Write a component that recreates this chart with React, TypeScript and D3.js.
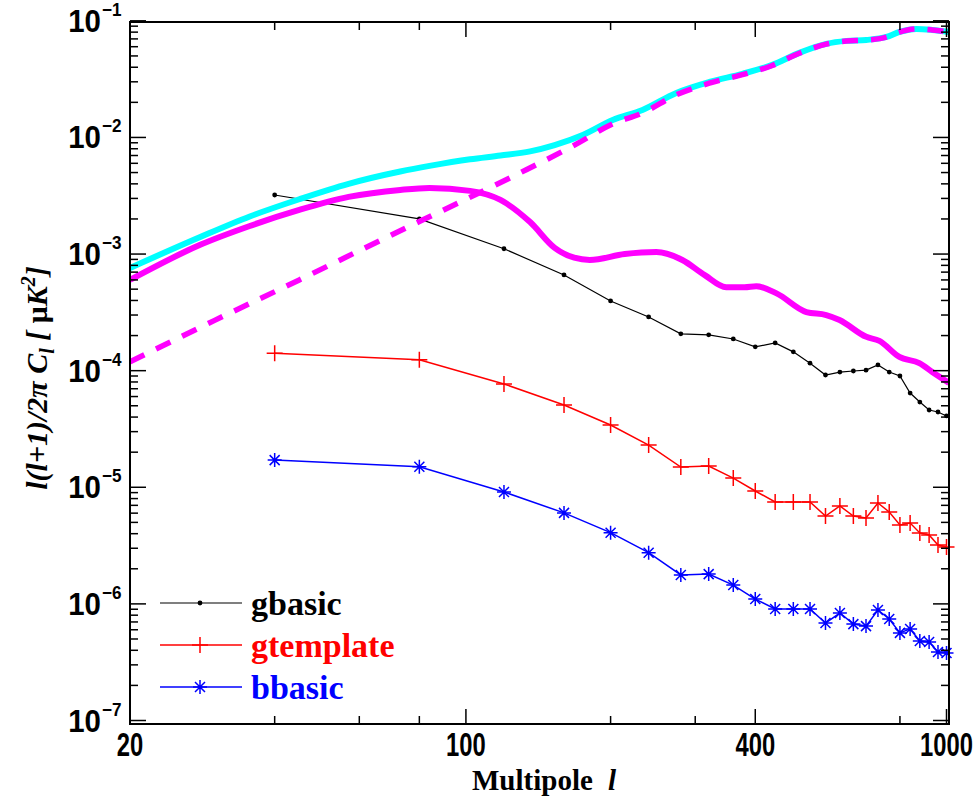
import React, { useEffect, useRef } from "react";
import * as d3 from "d3";

const W = 978;
const H = 798;

// binned estimates (multipole bin centres)
const binL = [40, 80, 120, 160, 200, 240, 280, 320, 360, 400, 440, 480, 520, 560, 600, 640, 680, 720, 760, 800, 840, 880, 920, 960, 1000];
const gbasic = [3.21e-3, 2.0e-3, 1.11e-3, 6.62e-4, 3.96e-4, 2.89e-4, 2.07e-4, 2.03e-4, 1.87e-4, 1.6e-4, 1.73e-4, 1.45e-4, 1.16e-4, 9.18e-5, 9.73e-5, 9.93e-5, 1.01e-4, 1.12e-4, 9.73e-5, 9.0e-5, 6.43e-5, 5.38e-5, 4.6e-5, 4.42e-5, 4.09e-5];
const gtemplate = [1.41e-4, 1.24e-4, 7.69e-5, 5.08e-5, 3.42e-5, 2.3e-5, 1.49e-5, 1.52e-5, 1.2e-5, 9.29e-6, 7.48e-6, 7.48e-6, 7.48e-6, 5.67e-6, 6.91e-6, 5.67e-6, 5.45e-6, 7.33e-6, 6.14e-6, 4.75e-6, 4.94e-6, 4.06e-6, 3.9e-6, 3.2e-6, 3.08e-6];
const bbasic = [1.71e-5, 1.5e-5, 9.12e-6, 6.03e-6, 4.08e-6, 2.75e-6, 1.77e-6, 1.8e-6, 1.45e-6, 1.1e-6, 9.04e-7, 9.04e-7, 9.04e-7, 6.85e-7, 8.35e-7, 6.71e-7, 6.45e-7, 8.87e-7, 7.43e-7, 5.64e-7, 6.1e-7, 4.81e-7, 4.71e-7, 3.87e-7, 3.79e-7];

// theory spectra
const totalL = [20, 28, 35.5, 45, 57, 73, 84, 102, 118, 136, 153, 175, 202, 233, 274, 321, 376, 434, 494, 562, 619, 681, 750, 798, 866, 934, 1012];
const totalCl = [7.6e-4, 1.4e-3, 2.1e-3, 2.95e-3, 4.0e-3, 5.1e-3, 5.7e-3, 6.5e-3, 7.0e-3, 7.6e-3, 8.6e-3, 1.05e-2, 1.41e-2, 1.72e-2, 2.41e-2, 2.99e-2, 3.51e-2, 4.19e-2, 5.31e-2, 6.34e-2, 6.73e-2, 6.86e-2, 7.27e-2, 8.03e-2, 8.53e-2, 8.36e-2, 8.03e-2];

const scalarL = [20, 28, 35.5, 45, 57, 73, 84, 102, 118, 136, 153, 168, 181, 214, 249, 282, 314, 348, 380, 402, 443, 511, 562, 599, 681, 725, 798, 878, 934, 1012];
const scalarCl = [6.0e-4, 1.2e-3, 1.74e-3, 2.39e-3, 3.09e-3, 3.55e-3, 3.69e-3, 3.48e-3, 2.91e-3, 1.88e-3, 1.13e-3, 9.3e-4, 8.9e-4, 1.0e-3, 1.04e-3, 8.9e-4, 6.6e-4, 5.2e-4, 5.2e-4, 5.3e-4, 4.6e-4, 3.18e-4, 3.0e-4, 2.72e-4, 1.95e-4, 1.8e-4, 1.31e-4, 1.16e-4, 9.75e-5, 7.85e-5];

const lensL = [20, 30, 45, 60, 80, 100, 130, 170, 202, 233, 274, 321, 376, 434, 494, 562, 619, 681, 750, 798, 866, 934, 1012];
const lensCl = [1.19e-4, 2.7e-4, 6.0e-4, 1.07e-3, 1.9e-3, 2.95e-3, 5.0e-3, 8.8e-3, 1.31e-2, 1.62e-2, 2.32e-2, 2.92e-2, 3.45e-2, 4.14e-2, 5.27e-2, 6.31e-2, 6.71e-2, 6.84e-2, 7.25e-2, 8.02e-2, 8.52e-2, 8.35e-2, 8.02e-2];

const xMajor = [20, 100, 400, 1000];
const xMinor = [40, 60, 80, 200, 300, 800];
const yDecades = [-7, -6, -5, -4, -3, -2, -1];

const seriesNames = ["gbasic", "gtemplate", "bbasic"];
const seriesColors = ["#000000", "#ff0000", "#0000ff"];

const sans = "'Liberation Sans', Arial, Helvetica, sans-serif";
const serif = "'Liberation Serif', 'Times New Roman', Times, serif";

export default function App() {
  const svgRef = useRef<SVGSVGElement>(null);

  useEffect(() => {
    const svg = d3.select(svgRef.current);
    svg.selectAll("*").remove();

    const left = 130, right = 949, top = 22, bottom = 724;

    const x = d3.scaleLog().domain([20, 1012]).range([left, right]);
    const y = d3
      .scaleLog()
      .domain([Math.pow(10, -7.03), Math.pow(10, -1.01)])
      .range([bottom, top]);

    const markers: ((g: any, px: number, py: number) => void)[] = [
      (g, px, py) =>
        g.append("circle").attr("cx", px).attr("cy", py).attr("r", 2.4).attr("fill", "#000"),
      (g, px, py) =>
        g
          .append("path")
          .attr("d", `M${px - 8},${py}H${px + 8}M${px},${py - 8}V${py + 8}`)
          .attr("stroke", "#ff0000")
          .attr("stroke-width", 1.5)
          .attr("fill", "none"),
      (g, px, py) =>
        g
          .append("path")
          .attr(
            "d",
            `M${px - 7},${py}H${px + 7}M${px},${py - 7}V${py + 7}M${px - 5},${py - 5}L${px + 5},${py + 5}M${px - 5},${py + 5}L${px + 5},${py - 5}`
          )
          .attr("stroke", "#0000ff")
          .attr("stroke-width", 1.5)
          .attr("fill", "none"),
    ];

    /* binned data */
    const lineFn = d3
      .line<[number, number]>()
      .x((d) => x(d[0]))
      .y((d) => y(d[1]));

    [gbasic, gtemplate, bbasic].forEach((vals, i) => {
      const pts = binL.map((l, k) => [l, vals[k]] as [number, number]);
      const g = svg.append("g");
      g.append("path")
        .attr("d", lineFn(pts))
        .attr("fill", "none")
        .attr("stroke", seriesColors[i])
        .attr("stroke-width", i === 0 ? 1.2 : 1.5);
      pts.forEach((p) => markers[i](g, x(p[0]), y(p[1])));
    });

    /* theory curves */
    const smooth = d3
      .line<[number, number]>()
      .x((d) => x(d[0]))
      .y((d) => y(d[1]))
      .curve(d3.curveMonotoneX);

    svg
      .append("clipPath")
      .attr("id", "plotclip")
      .append("rect")
      .attr("x", left)
      .attr("y", top)
      .attr("width", right - left)
      .attr("height", bottom - top);

    const curves = svg.append("g").attr("clip-path", "url(#plotclip)");
    curves
      .append("path")
      .attr("d", smooth(totalL.map((l, k) => [l, totalCl[k]] as [number, number])))
      .attr("fill", "none")
      .attr("stroke", "#00ffff")
      .attr("stroke-width", 6);
    curves
      .append("path")
      .attr("d", smooth(scalarL.map((l, k) => [l, scalarCl[k]] as [number, number])))
      .attr("fill", "none")
      .attr("stroke", "#ff00ff")
      .attr("stroke-width", 6);
    curves
      .append("path")
      .attr("d", smooth(lensL.map((l, k) => [l, lensCl[k]] as [number, number])))
      .attr("fill", "none")
      .attr("stroke", "#ff00ff")
      .attr("stroke-width", 5.5)
      .attr("stroke-dasharray", "16,13");

    /* axes box and ticks */
    const axes = svg.append("g").attr("stroke", "#000").attr("stroke-width", 1.5);
    axes
      .append("rect")
      .attr("x", left)
      .attr("y", top)
      .attr("width", right - left)
      .attr("height", bottom - top)
      .attr("fill", "none")
      .attr("stroke-width", 2);

    const xTick = (v: number, len: number) => {
      const px = x(v);
      axes.append("line").attr("x1", px).attr("x2", px).attr("y1", bottom).attr("y2", bottom - len);
      axes.append("line").attr("x1", px).attr("x2", px).attr("y1", top).attr("y2", top + len);
    };
    xMajor.forEach((v) => xTick(v, 15));
    xMinor.forEach((v) => xTick(v, 8));

    const [ymin, ymax] = y.domain();
    const yTick = (v: number, len: number) => {
      const py = y(v);
      axes.append("line").attr("x1", left).attr("x2", left + len).attr("y1", py).attr("y2", py);
      axes.append("line").attr("x1", right).attr("x2", right - len).attr("y1", py).attr("y2", py);
    };
    yDecades.forEach((d) => {
      const v = Math.pow(10, d);
      if (v >= ymin * 0.999 && v <= ymax * 1.03) yTick(v, 16);
      for (let m = 2; m <= 9; m++) {
        const mv = m * v;
        if (mv >= ymin && mv <= ymax) yTick(mv, 8);
      }
    });

    /* tick labels */
    xMajor.forEach((v) => {
      svg
        .append("text")
        .attr("transform", `translate(${x(v)},${756}) scale(0.7,1)`)
        .attr("text-anchor", "middle")
        .attr("font-family", sans)
        .attr("font-weight", "bold")
        .attr("font-size", 34)
        .text(String(v));
    });

    yDecades.forEach((d) => {
      const py = Math.max(y(Math.pow(10, d)), top - 1);
      svg
        .append("text")
        .attr("transform", `translate(${101},${py + 11}) scale(0.95,1)`)
        .attr("text-anchor", "end")
        .attr("font-family", sans)
        .attr("font-weight", "bold")
        .attr("font-size", 31)
        .text("10");
      svg
        .append("text")
        .attr("transform", `translate(${102},${py - 5}) scale(0.9,1)`)
        .attr("font-family", sans)
        .attr("font-weight", "bold")
        .attr("font-size", 19)
        .text("\u2212" + Math.abs(d));
    });

    /* axis titles */
    const xt = svg
      .append("text")
      .attr("x", 472)
      .attr("y", 790)
      .attr("font-family", serif)
      .attr("font-weight", "bold")
      .attr("font-size", 29);
    xt.append("tspan").text("Multipole ");
    xt.append("tspan").attr("font-style", "italic").attr("dx", 8).text("l");

    const yt = svg
      .append("text")
      .attr("transform", `translate(47,378) rotate(-90)`)
      .attr("text-anchor", "middle")
      .attr("font-family", serif)
      .attr("font-weight", "bold")
      .attr("font-style", "italic")
      .attr("font-size", 30);
    yt.append("tspan").text("l(l+1)/2\u03c0 C");
    yt.append("tspan").attr("font-size", 20).attr("dy", 7).text("l");
    yt.append("tspan").attr("dy", -7).text(" [ ");
    yt.append("tspan").attr("font-style", "normal").text("\u03bc");
    yt.append("tspan").text("K");
    yt.append("tspan").attr("font-size", 20).attr("dy", -12).text("2");
    yt.append("tspan").attr("dy", 12).text("]");

    /* legend */
    const rows = [603, 645, 687];
    seriesNames.forEach((name, i) => {
      const g = svg.append("g");
      g.append("line")
        .attr("x1", 160)
        .attr("x2", 242)
        .attr("y1", rows[i])
        .attr("y2", rows[i])
        .attr("stroke", seriesColors[i])
        .attr("stroke-width", i === 0 ? 1.2 : 1.5);
      markers[i](g, 200, rows[i]);
      g.append("text")
        .attr("x", 251)
        .attr("y", rows[i] + 12)
        .attr("font-family", serif)
        .attr("font-weight", "bold")
        .attr("font-size", 34)
        .attr("fill", seriesColors[i])
        .text(name);
    });
  }, []);

  return (
    <svg
      ref={svgRef}
      width={W}
      height={H}
      style={{ position: "absolute", left: 0, top: 0, background: "#fff" }}
    />
  );
}
